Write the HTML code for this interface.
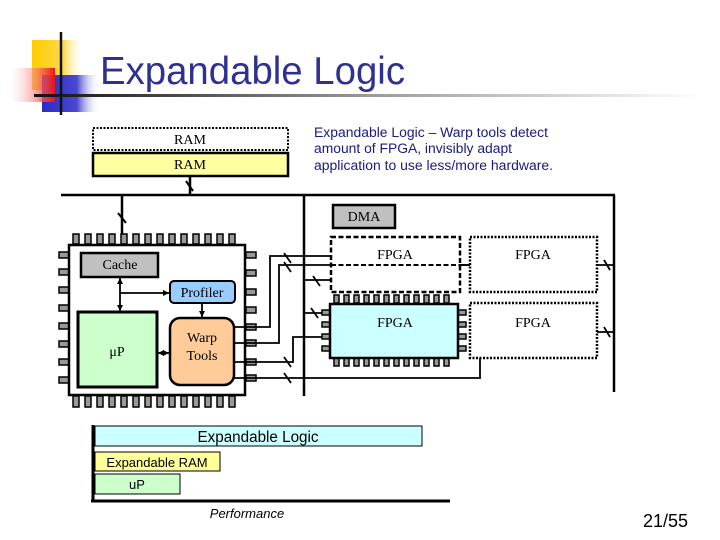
<!DOCTYPE html>
<html><head><meta charset="utf-8"><style>
html,body{margin:0;padding:0;background:#fff;width:720px;height:540px;overflow:hidden}
svg{display:block}
.s{font-family:"Liberation Serif",serif;font-size:14px;fill:#000}
</style></head><body>
<svg width="720" height="540" viewBox="0 0 720 540" xmlns="http://www.w3.org/2000/svg">
<defs>
<linearGradient id="yl" x1="0" x2="1"><stop offset="0" stop-color="#ffcc00"/><stop offset="0.6" stop-color="#ffd84a"/><stop offset="1" stop-color="#fff" stop-opacity="0"/></linearGradient>
<linearGradient id="rd" x1="1" x2="0"><stop offset="0" stop-color="#ee1111"/><stop offset="1" stop-color="#fff" stop-opacity="0.2"/></linearGradient>
<linearGradient id="bl" x1="0" x2="1"><stop offset="0" stop-color="#2b2bc8"/><stop offset="0.6" stop-color="#4848d0"/><stop offset="1" stop-color="#fff" stop-opacity="0"/></linearGradient>
<linearGradient id="hl" x1="0" x2="1"><stop offset="0" stop-color="#111"/><stop offset="0.5" stop-color="#999"/><stop offset="1" stop-color="#fff"/></linearGradient>
</defs>
<rect x="32" y="40" width="52" height="50" fill="url(#yl)"/>
<rect x="42" y="75" width="58" height="37" fill="url(#bl)"/>
<rect x="10" y="68" width="45" height="34" fill="url(#rd)"/>
<rect x="34" y="94" width="666" height="3" fill="url(#hl)"/>
<line x1="61" y1="32" x2="61" y2="115" stroke="#111" stroke-width="2.5"/>
<text x="100" y="84" font-family="Liberation Sans,sans-serif" font-size="39" fill="#2e3192" textLength="305" lengthAdjust="spacingAndGlyphs">Expandable Logic</text>

<rect x="93" y="128" width="195" height="22" fill="#fff" stroke="#000" stroke-width="2" stroke-dasharray="2 1.5"/>
<text x="190" y="144" class="s" text-anchor="middle">RAM</text>
<rect x="93" y="153" width="195" height="23" fill="#ffffa0" stroke="#000" stroke-width="2.5"/>
<text x="190" y="169" class="s" text-anchor="middle">RAM</text>
<g font-family="Liberation Sans,sans-serif" font-size="13.5" fill="#1a1a80">
<text x="314" y="137" textLength="234" lengthAdjust="spacingAndGlyphs">Expandable Logic – Warp tools detect</text>
<text x="314" y="153" textLength="198" lengthAdjust="spacingAndGlyphs">amount of FPGA, invisibly adapt</text>
<text x="314" y="170" textLength="239" lengthAdjust="spacingAndGlyphs">application to use less/more hardware.</text>
</g>

<g stroke="#000" stroke-width="2.5" fill="none">
<line x1="61" y1="195" x2="615" y2="195"/>
<line x1="190" y1="176" x2="190" y2="195"/>
<line x1="304" y1="195" x2="304" y2="396"/>
<line x1="614" y1="195" x2="614" y2="392"/>
<line x1="122" y1="195" x2="122" y2="240"/>
</g>
<g stroke="#000" stroke-width="2">
<line x1="186" y1="181" x2="193" y2="191"/>
<line x1="118" y1="213" x2="126" y2="223"/>
</g>

<rect x="333" y="205" width="62" height="23" fill="#c0c0c0" stroke="#000" stroke-width="2.5"/>
<text x="364" y="221" class="s" text-anchor="middle">DMA</text>

<rect x="331" y="237" width="129" height="55" fill="#fff" stroke="#000" stroke-width="2.5" stroke-dasharray="5 2.5"/>
<line x1="331" y1="265" x2="460" y2="265" stroke="#000" stroke-width="2" stroke-dasharray="5 2.5"/>
<text x="395" y="259" class="s" text-anchor="middle">FPGA</text>
<rect x="470" y="237" width="127" height="55" fill="#fff" stroke="#000" stroke-width="2.5" stroke-dasharray="2 1.5"/>
<text x="533" y="259" class="s" text-anchor="middle">FPGA</text>
<rect x="470" y="303" width="127" height="55" fill="#fff" stroke="#000" stroke-width="2.5" stroke-dasharray="2 1.5"/>
<text x="533" y="327" class="s" text-anchor="middle">FPGA</text>
<line x1="460" y1="265" x2="470" y2="265" stroke="#000" stroke-width="2"/>
<g fill="#999" stroke="#000" stroke-width="1.5">
<rect x="334" y="295" width="5" height="8"/><rect x="344" y="295" width="5" height="8"/><rect x="354" y="295" width="5" height="8"/><rect x="364" y="295" width="5" height="8"/><rect x="374" y="295" width="5" height="8"/><rect x="384" y="295" width="5" height="8"/><rect x="394" y="295" width="5" height="8"/><rect x="404" y="295" width="5" height="8"/><rect x="414" y="295" width="5" height="8"/><rect x="424" y="295" width="5" height="8"/><rect x="434" y="295" width="5" height="8"/><rect x="444" y="295" width="5" height="8"/>
<rect x="334" y="358" width="5" height="8"/><rect x="344" y="358" width="5" height="8"/><rect x="354" y="358" width="5" height="8"/><rect x="364" y="358" width="5" height="8"/><rect x="374" y="358" width="5" height="8"/><rect x="384" y="358" width="5" height="8"/><rect x="394" y="358" width="5" height="8"/><rect x="404" y="358" width="5" height="8"/><rect x="414" y="358" width="5" height="8"/><rect x="424" y="358" width="5" height="8"/><rect x="434" y="358" width="5" height="8"/><rect x="444" y="358" width="5" height="8"/>
<rect x="322" y="310" width="8" height="5"/><rect x="322" y="322" width="8" height="5"/><rect x="322" y="334" width="8" height="5"/><rect x="322" y="346" width="8" height="5"/>
<rect x="458" y="310" width="8" height="5"/><rect x="458" y="322" width="8" height="5"/><rect x="458" y="334" width="8" height="5"/><rect x="458" y="346" width="8" height="5"/>
</g>
<rect x="330" y="304" width="128" height="54" fill="#ccffff" stroke="#000" stroke-width="2.5"/>
<text x="395" y="327" class="s" text-anchor="middle">FPGA</text>

<g fill="#999" stroke="#000" stroke-width="1.5">
<rect x="73" y="234" width="6" height="10"/><rect x="85" y="234" width="6" height="10"/><rect x="97" y="234" width="6" height="10"/><rect x="109" y="234" width="6" height="10"/><rect x="121" y="234" width="6" height="10"/><rect x="133" y="234" width="6" height="10"/><rect x="145" y="234" width="6" height="10"/><rect x="157" y="234" width="6" height="10"/><rect x="169" y="234" width="6" height="10"/><rect x="181" y="234" width="6" height="10"/><rect x="193" y="234" width="6" height="10"/><rect x="205" y="234" width="6" height="10"/><rect x="217" y="234" width="6" height="10"/><rect x="229" y="234" width="6" height="10"/>
<rect x="73" y="396" width="6" height="11"/><rect x="85" y="396" width="6" height="11"/><rect x="97" y="396" width="6" height="11"/><rect x="109" y="396" width="6" height="11"/><rect x="121" y="396" width="6" height="11"/><rect x="133" y="396" width="6" height="11"/><rect x="145" y="396" width="6" height="11"/><rect x="157" y="396" width="6" height="11"/><rect x="169" y="396" width="6" height="11"/><rect x="181" y="396" width="6" height="11"/><rect x="193" y="396" width="6" height="11"/><rect x="205" y="396" width="6" height="11"/><rect x="217" y="396" width="6" height="11"/><rect x="229" y="396" width="6" height="11"/>
<rect x="59" y="252" width="10" height="6"/><rect x="59" y="269" width="10" height="6"/><rect x="59" y="287" width="10" height="6"/><rect x="59" y="305" width="10" height="6"/><rect x="59" y="323" width="10" height="6"/><rect x="59" y="341" width="10" height="6"/><rect x="59" y="359" width="10" height="6"/><rect x="59" y="377" width="10" height="6"/>
<rect x="246" y="252" width="10" height="6"/><rect x="246" y="270" width="10" height="6"/><rect x="246" y="289" width="10" height="6"/><rect x="246" y="307" width="10" height="6"/><rect x="246" y="324" width="10" height="6"/><rect x="246" y="340" width="10" height="6"/><rect x="246" y="359" width="10" height="6"/><rect x="246" y="375" width="10" height="6"/>
</g>
<rect x="69" y="245" width="176" height="150" fill="#fff" stroke="#000" stroke-width="2.5"/>

<rect x="81" y="253" width="77" height="24" fill="#c0c0c0" stroke="#000" stroke-width="2.5"/>
<text x="120" y="269" class="s" text-anchor="middle">Cache</text>
<rect x="170" y="281" width="65" height="22" rx="4" fill="#99ccff" stroke="#000" stroke-width="2"/>
<text x="202" y="297" class="s" text-anchor="middle">Profiler</text>
<rect x="78" y="312" width="79" height="75" fill="#ccffcc" stroke="#000" stroke-width="3"/>
<text x="117" y="356" class="s" font-size="16" text-anchor="middle">μP</text>
<rect x="170" y="318" width="64" height="67" rx="10" fill="#ffcc99" stroke="#000" stroke-width="2.5"/>
<text x="202" y="342" class="s" text-anchor="middle">Warp</text>
<text x="202" y="360" class="s" text-anchor="middle">Tools</text>

<g stroke="#000" stroke-width="1.8" fill="none">
<line x1="120" y1="278" x2="120" y2="311"/>
<line x1="120" y1="293" x2="169" y2="293"/>
<line x1="202" y1="304" x2="202" y2="317"/>
<line x1="158" y1="353" x2="169" y2="353"/>
<polyline points="234,327 270,327 270,256 331,256"/>
<polyline points="234,343 279,343 279,265 331,265"/>
<polyline points="234,362 293,362 293,337 322,337"/>
<polyline points="234,378 480,378 480,358"/>
<line x1="304" y1="280" x2="331" y2="280"/>
<line x1="304" y1="313" x2="322" y2="313"/>
<line x1="597" y1="265" x2="614" y2="265"/>
<line x1="597" y1="332" x2="614" y2="332"/>
</g>
<g stroke="#000" stroke-width="1.8">
<line x1="284" y1="253" x2="291" y2="263"/><line x1="284" y1="262" x2="291" y2="272"/>
<line x1="313" y1="276" x2="320" y2="286"/><line x1="311" y1="308" x2="318" y2="318"/>
<line x1="284" y1="357" x2="291" y2="367"/><line x1="284" y1="373" x2="291" y2="383"/>
<line x1="604" y1="260" x2="610" y2="270"/><line x1="604" y1="327" x2="610" y2="337"/>
</g>
<g fill="#000">
<polygon points="120,278 117,284 123,284"/><polygon points="120,311 117,305 123,305"/>
<polygon points="169,293 163,290 163,296"/><polygon points="202,317 199,311 205,311"/>
<polygon points="158,353 164,350 164,356"/><polygon points="169,353 163,350 163,356"/>
</g>

<line x1="93" y1="425" x2="93" y2="502" stroke="#000" stroke-width="3"/>
<line x1="91" y1="501" x2="450" y2="501" stroke="#000" stroke-width="3"/>
<rect x="95" y="426" width="327" height="20" fill="#ccffff" stroke="#000" stroke-width="1"/>
<text x="258" y="442" font-family="Liberation Sans,sans-serif" font-size="15.5" text-anchor="middle" fill="#000" textLength="121" lengthAdjust="spacingAndGlyphs">Expandable Logic</text>
<rect x="95" y="452" width="125" height="19" fill="#ffff99" stroke="#000" stroke-width="1"/>
<text x="157" y="467" font-family="Liberation Sans,sans-serif" font-size="13" text-anchor="middle" fill="#000">Expandable RAM</text>
<rect x="95" y="474" width="85" height="20" fill="#ccffcc" stroke="#000" stroke-width="1"/>
<text x="137" y="489" font-family="Liberation Sans,sans-serif" font-size="13" text-anchor="middle" fill="#000">uP</text>
<text x="247" y="518" font-family="Liberation Sans,sans-serif" font-size="13" font-style="italic" text-anchor="middle" fill="#000">Performance</text>
<text x="688" y="527" font-family="Liberation Sans,sans-serif" font-size="18" text-anchor="end" fill="#000">21/55</text>
</svg>
</body></html>
